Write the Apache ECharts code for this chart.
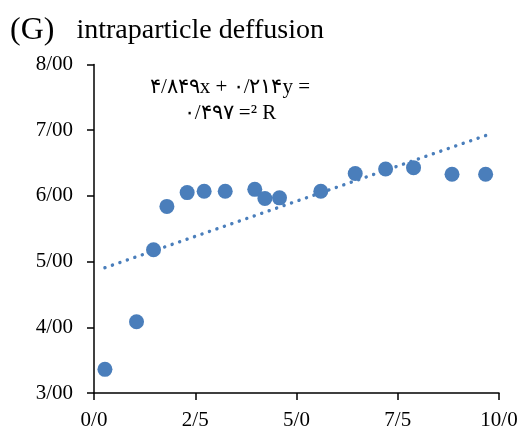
<!DOCTYPE html>
<html>
<head>
<meta charset="utf-8">
<script src="https://cdn.jsdelivr.net/npm/echarts@6/dist/echarts.min.js"></script>
<style>
  html, body { margin: 0; padding: 0; background: #fff; }
  #chart { width: 531px; height: 431px; }
</style>
</head>
<body>
<div id="chart"></div>
<script>
// Uptake measurements (x = t^0.5, y = qt)
const xValues = [0.27, 1.05, 1.47, 1.80, 2.30, 2.72, 3.24, 3.97, 4.22, 4.58, 5.60, 6.45, 7.20, 7.89, 8.84, 9.67];
const yValues = [3.36, 4.085, 5.18, 5.84, 6.05, 6.07, 6.07, 6.10, 5.96, 5.97, 6.07, 6.34, 6.41, 6.43, 6.33, 6.33];

// Linear fit as printed on the chart: y = 0.214x + 4.849, R² = 0.497
const fitSlope = 0.214;
const fitIntercept = 4.849;
const fitLabelLines = ['۴/۸۴۹x + ۰/۲۱۴y =', '۰/۴۹۷ =² R'];

// Axis tick labels (slash used as decimal separator)
const xTickValues = [0, 2.5, 5, 7.5, 10];
const xTickLabels = ['0/0', '2/5', '5/0', '7/5', '10/0'];
const yTickValues = [3, 4, 5, 6, 7, 8];
const yTickLabels = ['3/00', '4/00', '5/00', '6/00', '7/00', '8/00'];

const points = xValues.map((x, i) => [x, yValues[i]]);
const xMin = Math.min(...xValues), xMax = Math.max(...xValues);
const fitLine = [[xMin, fitSlope * xMin + fitIntercept], [xMax, fitSlope * xMax + fitIntercept]];

function tickText(values, labels) {
  return v => {
    const i = values.findIndex(t => Math.abs(t - v) < 1e-6);
    return i >= 0 ? labels[i] : '';
  };
}

const blue = '#4a7ebb';
const serif = '"Liberation Serif", "Times New Roman", serif';

const chart = echarts.init(document.getElementById('chart'));
chart.setOption({
  animation: false,
  backgroundColor: '#fff',
  title: {
    text: '{g|(G)}{t|intraparticle deffusion}',
    left: 5,
    top: 10,
    textStyle: {
      fontWeight: 'normal',
      rich: {
        g: { fontFamily: serif, fontSize: 32, fontWeight: 'normal', color: '#000', padding: [0, 22, 0, 0] },
        t: { fontFamily: serif, fontSize: 28, fontWeight: 'normal', color: '#000' }
      }
    }
  },
  grid: { left: 94, right: 32, top: 64.5, bottom: 38 },
  xAxis: {
    type: 'value',
    min: 0, max: 10, interval: 2.5,
    axisLine: { lineStyle: { color: '#000', width: 1.5 } },
    axisTick: { show: true, inside: false, length: 7, lineStyle: { color: '#000', width: 1.5 } },
    splitLine: { show: false },
    axisLabel: {
      formatter: tickText(xTickValues, xTickLabels),
      fontFamily: serif, fontSize: 21, color: '#000', margin: 17
    }
  },
  yAxis: {
    type: 'value',
    min: 3, max: 8, interval: 1,
    axisLine: { show: true, lineStyle: { color: '#000', width: 1.5 } },
    axisTick: { show: true, inside: false, length: 7, lineStyle: { color: '#000', width: 1.5 } },
    splitLine: { show: false },
    axisLabel: {
      formatter: tickText(yTickValues, yTickLabels),
      fontFamily: serif, fontSize: 21, color: '#000', margin: 21
    }
  },
  graphic: [{
    type: 'text',
    left: 140,
    top: 74,
    style: {
      text: fitLabelLines.join('\n'),
      font: '21px ' + serif,
      fill: '#000',
      textAlign: 'center',
      lineHeight: 26,
      width: 180
    }
  }],
  series: [
    {
      type: 'line',
      data: fitLine,
      symbol: 'none',
      silent: true,
      z: 1,
      lineStyle: { color: blue, width: 3.4, type: [0.1, 7.8], cap: 'round', opacity: 1 }
    },
    {
      type: 'scatter',
      data: points,
      symbol: 'circle',
      symbolSize: 15,
      z: 2,
      itemStyle: { color: blue, opacity: 1 }
    }
  ]
});
</script>
</body>
</html>
